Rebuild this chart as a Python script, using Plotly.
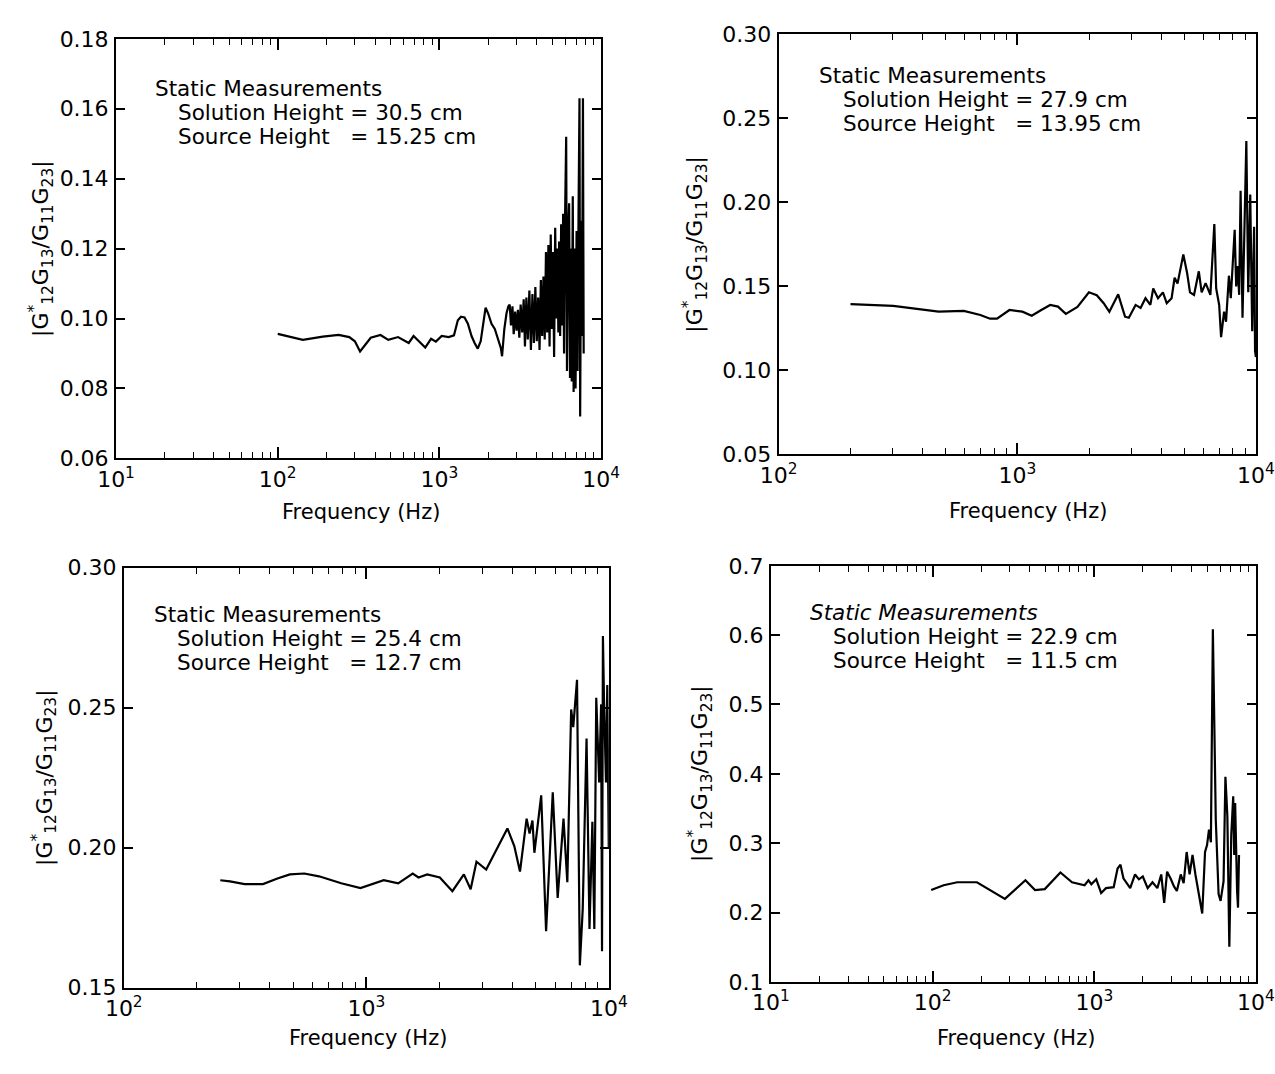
import plotly.graph_objects as go

# ---------------- data ----------------
tl_freq = [100, 143, 190, 238, 277, 300, 323, 350, 376, 432,
           483, 555, 646, 692, 750, 817, 888, 951, 1033, 1140,
           1230, 1300, 1360, 1430, 1500, 1580, 1650, 1726, 1800, 1870,
           1930, 2000, 2100, 2200, 2300, 2400, 2440, 2520, 2600, 2670,
           2720, 2770, 2830, 2880, 2940, 3000, 3060, 3120, 3180, 3250,
           3320, 3380, 3450, 3520, 3600, 3680, 3760, 3840, 3920, 4000,
           4080, 4160, 4240, 4320, 4400, 4480, 4560, 4640, 4720, 4800,
           4880, 4960, 5040, 5120, 5200, 5280, 5360, 5440, 5500, 5580,
           5660, 5740, 5820, 5900, 5980, 6080, 6150, 6250, 6340, 6420,
           6500, 6580, 6680, 6760, 6850, 6950, 7050, 7150, 7250, 7350,
           7420, 7520, 7620, 7720, 7800]
tl_val = [0.0956, 0.0939, 0.0948, 0.0953, 0.0947, 0.0935, 0.0906, 0.0925, 0.0945, 0.0953,
          0.0939, 0.0947, 0.0930, 0.0950, 0.0935, 0.0917, 0.0942, 0.0934, 0.0950, 0.0947,
          0.0952, 0.0995, 0.1005, 0.1003, 0.0985, 0.0950, 0.0930, 0.0914, 0.0935, 0.0995,
          0.1031, 0.1015, 0.0985, 0.0970, 0.0940, 0.0915, 0.0892, 0.0970, 0.1015, 0.1035,
          0.1040, 0.0980, 0.1035, 0.0955, 0.1020, 0.0965, 0.1025, 0.0945, 0.1040, 0.0960,
          0.1055, 0.0920, 0.1060, 0.0940, 0.1080, 0.0910, 0.1070, 0.0930, 0.1090, 0.0935,
          0.1060, 0.0910, 0.1110, 0.0950, 0.1120, 0.0940, 0.1190, 0.0960, 0.1210, 0.0920,
          0.1240, 0.0970, 0.1190, 0.0890, 0.1260, 0.1000, 0.1200, 0.0960, 0.1220, 0.0950,
          0.1270, 0.0980, 0.1300, 0.0900, 0.1280, 0.1520, 0.0850, 0.1250, 0.1330, 0.0830,
          0.1200, 0.0820, 0.1350, 0.0790, 0.1200, 0.0800, 0.1250, 0.0850, 0.1300, 0.1630,
          0.0720, 0.1280, 0.0950, 0.1630, 0.0900]

tr_freq = [200, 302, 468, 597, 700, 769, 822, 927, 1050, 1149,
           1260, 1373, 1480, 1597, 1786, 1995, 2152, 2300, 2430, 2646,
           2826, 2933, 3130, 3283, 3443, 3608, 3710, 3885, 4074, 4227,
           4430, 4560, 4690, 4960, 5145, 5290, 5500, 5760, 5920, 6150,
           6440, 6690, 6810, 7010, 7140, 7350, 7490, 7700, 7840, 8000,
           8140, 8260, 8380, 8500, 8620, 8780, 8940, 9110, 9280, 9460,
           9640, 9820, 9910, 9990]
tr_val = [0.1395, 0.1384, 0.1350, 0.1355, 0.1330, 0.1308, 0.1308, 0.1360, 0.1350, 0.1326,
          0.1360, 0.1390, 0.1380, 0.1337, 0.1378, 0.1465, 0.1448, 0.1400, 0.1349, 0.1453,
          0.1320, 0.1314, 0.1390, 0.1372, 0.1430, 0.1390, 0.1488, 0.1430, 0.1465, 0.1400,
          0.1430, 0.1552, 0.1517, 0.1690, 0.1580, 0.1465, 0.1450, 0.1590, 0.1465, 0.1520,
          0.1450, 0.1872, 0.1488, 0.1390, 0.1198, 0.1350, 0.1290, 0.1564, 0.1430, 0.1700,
          0.1837, 0.1500, 0.1622, 0.1450, 0.2070, 0.1314, 0.1895, 0.2366, 0.1465, 0.2047,
          0.1233, 0.1855, 0.1116, 0.1080]

bl_freq = [250, 274, 315, 375, 430, 484, 555, 638, 788, 946,
           1180, 1353, 1553, 1641, 1782, 2009, 2264, 2524, 2692, 2845,
           3120, 3816, 4074, 4300, 4580, 4710, 4840, 4930, 5260, 5510,
           5870, 6150, 6500, 6740, 6990, 7130, 7390, 7590, 7800, 8090,
           8320, 8550, 8710, 8870, 9120, 9290, 9370, 9450, 9550, 9730,
           9850, 9990]
bl_val = [0.1884, 0.1880, 0.1870, 0.1870, 0.1890, 0.1905, 0.1908, 0.1898, 0.1873, 0.1856,
          0.1884, 0.1873, 0.1908, 0.1894, 0.1905, 0.1894, 0.1845, 0.1905, 0.1852, 0.1950,
          0.1922, 0.2069, 0.2006, 0.1915, 0.2104, 0.2051, 0.2097, 0.1982, 0.2187, 0.1702,
          0.2198, 0.1821, 0.2104, 0.1877, 0.2494, 0.2431, 0.2600, 0.1580, 0.1780, 0.2390,
          0.1710, 0.2093, 0.1710, 0.2536, 0.2233, 0.2512, 0.1630, 0.2756, 0.2522, 0.2233,
          0.2581, 0.2000]

br_freq = [98, 117, 142, 188, 280, 375, 430, 494, 617, 728,
           871, 920, 959, 1028, 1102, 1181, 1318, 1393, 1452, 1514,
           1667, 1786, 1888, 1995, 2138, 2290, 2455, 2594, 2705, 2820,
           2978, 3105, 3240, 3425, 3570, 3725, 3885, 4050, 4220, 4400,
           4650, 4840, 4980, 5120, 5260, 5410, 5560, 5640, 5870, 6040,
           6300, 6470, 6650, 6840, 7030, 7230, 7330, 7430, 7640, 7740, 7850]
br_val = [0.2324, 0.2394, 0.2437, 0.2437, 0.2197, 0.2465, 0.2324, 0.2338, 0.2577, 0.2437,
          0.2394, 0.2465, 0.2408, 0.2479, 0.2282, 0.2352, 0.2366, 0.2634, 0.2690, 0.2493,
          0.2352, 0.2549, 0.2479, 0.2520, 0.2352, 0.2437, 0.2352, 0.2549, 0.2140, 0.2590,
          0.2479, 0.2380, 0.2310, 0.2549, 0.2423, 0.2873, 0.2549, 0.2831, 0.2549, 0.2310,
          0.1986, 0.2873, 0.2972, 0.3197, 0.3014, 0.6085, 0.4521, 0.3338, 0.2268, 0.2169,
          0.2450, 0.3958, 0.3394, 0.1507, 0.3113, 0.3676, 0.2831, 0.3578, 0.2310, 0.2070, 0.2830]

tl_yticks = [0.06, 0.08, 0.10, 0.12, 0.14, 0.16, 0.18]
tr_yticks = [0.05, 0.10, 0.15, 0.20, 0.25, 0.30]
bl_yticks = [0.15, 0.20, 0.25, 0.30]
br_yticks = [0.1, 0.2, 0.3, 0.4, 0.5, 0.6, 0.7]

NB = "\u00a0"
labels = [
    ("Static Measurements", "Solution Height = 30.5 cm", "Source Height" + NB * 3 + "= 15.25 cm"),
    ("Static Measurements", "Solution Height = 27.9 cm", "Source Height" + NB * 3 + "= 13.95 cm"),
    ("Static Measurements", "Solution Height = 25.4 cm", "Source Height" + NB * 3 + "= 12.7 cm"),
    ("Static Measurements", "Solution Height = 22.9 cm", "Source Height" + NB * 3 + "= 11.5 cm"),
]

YTITLE = "|G<sup>*</sup><sub>12</sub>G<sub>13</sub>/G<sub>11</sub>G<sub>23</sub>|"
XTITLE = "Frequency (Hz)"

# ---------------- layout geometry (pixels) ----------------
W, H = 1275, 1074
FONT = "DejaVu Sans, Liberation Sans, Arial, sans-serif"

def px(x):
    return x / W

def py(y):
    return 1 - y / H

panels = [
    dict(x0=100, x1=600, yt=27.5, yb=457, dlo=1, dhi=4, yr=[0.06, 0.18], yticks=tl_yticks, fmt="{:.2f}",
         f=tl_freq, v=tl_val, ytx=22, tx=138, ty=78, xtx=352, xty=512, italic=False),
    dict(x0=783, x1=1275, yt=23, yb=453, dlo=2, dhi=4, yr=[0.05, 0.30], yticks=tr_yticks, fmt="{:.2f}",
         f=tr_freq, v=tr_val, ytx=697, tx=823, ty=65, xtx=1040, xty=511, italic=False),
    dict(x0=108, x1=608, yt=569, yb=999, dlo=2, dhi=4, yr=[0.15, 0.30], yticks=bl_yticks, fmt="{:.2f}",
         f=bl_freq, v=bl_val, ytx=26, tx=137, ty=617, xtx=360, xty=1050, italic=False),
    dict(x0=775, x1=1275, yt=567, yb=993, dlo=1, dhi=4, yr=[0.1, 0.7], yticks=br_yticks, fmt="{:.1f}",
         f=br_freq, v=br_val, ytx=702, tx=813, ty=615, xtx=1028, xty=1050, italic=True),
]

fig = go.Figure()
annotations = []
layout = dict(width=W, height=H, margin=dict(l=0, r=0, t=0, b=0),
              paper_bgcolor="white", plot_bgcolor="white", showlegend=False,
              font=dict(family=FONT, color="black"))

for i, p in enumerate(panels):
    k = "" if i == 0 else str(i + 1)
    xa, ya = "x" + k, "y" + k
    fig.add_trace(go.Scatter(x=p["f"], y=p["v"], mode="lines",
                             line=dict(color="black", width=2.2),
                             xaxis=xa, yaxis=ya, hoverinfo="skip"))
    lo, hi = p["dlo"], p["dhi"]
    majors = [10 ** d for d in range(lo, hi + 1)]
    minors = [m * 10 ** d for d in range(lo, hi) for m in range(2, 10)]
    layout["xaxis" + k] = dict(
        type="log", range=[lo, hi],
        domain=[px(p["x0"]), px(p["x1"])],
        anchor=ya, showgrid=False, zeroline=False,
        showline=True, linecolor="black", linewidth=2, mirror="ticks",
        ticks="inside", ticklen=11, tickwidth=1.5, tickcolor="black",
        tickmode="array", tickvals=majors,
        ticktext=["10<sup>%d</sup>" % d for d in range(lo, hi + 1)],
        tickfont=dict(size=22, family=FONT, color="black"),
        ticklabelstandoff=0,
        minor=dict(tickmode="array", tickvals=minors, ticks="inside",
                   ticklen=6, tickwidth=1.3, tickcolor="black"),
        fixedrange=True,
    )
    layout["yaxis" + k] = dict(
        range=p["yr"], domain=[py(p["yb"]), py(p["yt"])],
        anchor=xa, showgrid=False, zeroline=False,
        showline=True, linecolor="black", linewidth=2, mirror="ticks",
        ticks="inside", ticklen=9, tickwidth=1.5, tickcolor="black",
        tickmode="array", tickvals=p["yticks"],
        ticktext=[p["fmt"].format(t) for t in p["yticks"]],
        tickfont=dict(size=22, family=FONT, color="black"),
        ticklabelstandoff=1,
        fixedrange=True,
    )
    annotations.append(dict(text=XTITLE, xref="paper", yref="paper",
                            x=px(p["xtx"]), y=py(p["xty"]),
                            xanchor="center", yanchor="middle", showarrow=False,
                            font=dict(size=21, family=FONT, color="black")))
    annotations.append(dict(text=YTITLE, xref="paper", yref="paper",
                            x=px(p["ytx"]), y=py((p["yt"] + p["yb"]) / 2), textangle=-90,
                            xanchor="center", yanchor="middle", showarrow=False,
                            font=dict(size=22, family=FONT, color="black")))
    head, l1, l2 = labels[i]
    if p["italic"]:
        head = "<i>%s</i>" % head
    annotations.append(dict(text=head, xref="paper", yref="paper",
                            x=px(p["tx"]), y=py(p["ty"]), xanchor="left", yanchor="middle",
                            showarrow=False, font=dict(size=21.5, family=FONT, color="black")))
    for j, line in enumerate([l1, l2]):
        annotations.append(dict(text=line, xref="paper", yref="paper",
                                x=px(p["tx"] + 24), y=py(p["ty"] + 24.5 * (j + 1)),
                                xanchor="left", yanchor="middle", showarrow=False,
                                font=dict(size=21.5, family=FONT, color="black")))

layout["annotations"] = annotations
fig.update_layout(**layout)
fig.write_html("out.html")
